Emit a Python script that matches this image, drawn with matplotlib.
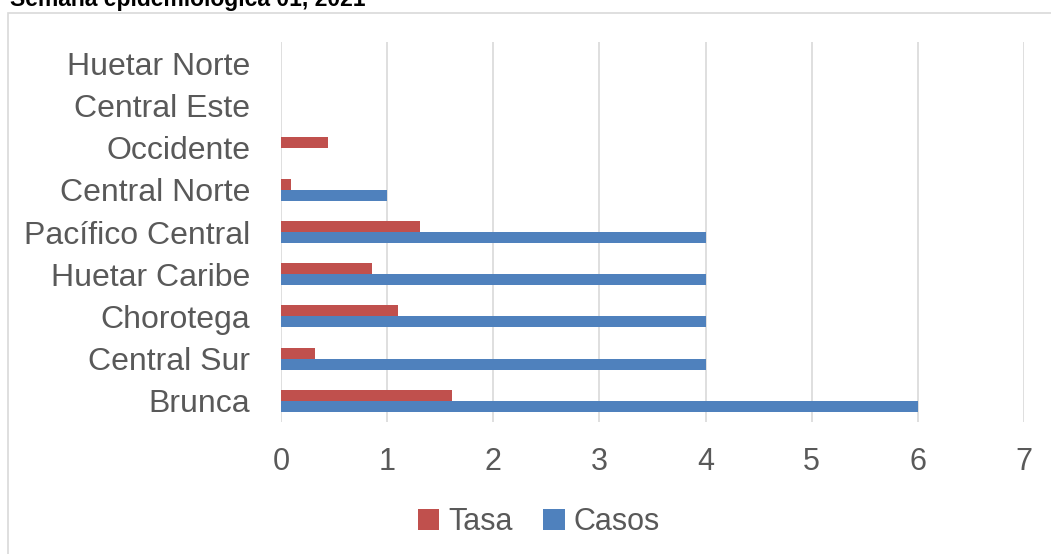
import matplotlib.pyplot as plt
from matplotlib.patches import Rectangle
import numpy as np

plt.rcParams['font.family'] = ['Liberation Sans', 'DejaVu Sans']

regiones = ['Brunca', 'Central Sur', 'Chorotega', 'Huetar Caribe', 'Pacífico Central',
            'Central Norte', 'Occidente', 'Central Este', 'Huetar Norte']
casos = [6, 4, 4, 4, 4, 1, 0, 0, 0]
tasa = [1.61, 0.32, 1.10, 0.86, 1.31, 0.09, 0.44, 0, 0]

rojo = '#C0504D'
azul = '#4F81BD'
gris_txt = '#595959'

fig = plt.figure(figsize=(10.51, 5.54), dpi=100)
fig.patch.set_facecolor('white')

# marco del gráfico (se sale por abajo y por la derecha)
fig.patches.append(Rectangle((8 / 1051, -0.05), 1.1, 1 - 13 / 554 + 0.05,
                             transform=fig.transFigure, fill=False,
                             edgecolor='#d9d9d9', linewidth=1.2))

# título recortado arriba, como en el original
fig.text(10 / 1051, 1 - 6 / 554, 'Semana epidemiológica 01, 2021',
         ha='left', va='baseline', fontsize=16.5, fontweight='bold', color='black')

ax = fig.add_axes([281 / 1051, 1 - 422 / 554, (1024 - 281) / 1051, (422 - 42) / 554])

y = np.arange(len(regiones))
h = 0.26
ax.barh(y - h / 2, casos, height=h, color=azul, label='Casos')
ax.barh(y + h / 2, tasa, height=h, color=rojo, label='Tasa')

ax.set_xlim(0, 7)
ax.set_ylim(-0.5, len(regiones) - 0.5)
ax.set_xticks(range(0, 8))
ax.set_yticks(y)
ax.set_yticklabels(regiones)
ax.tick_params(axis='both', length=0, labelsize=22, labelcolor=gris_txt)
ax.tick_params(axis='y', pad=22, labelsize=23)
ax.tick_params(axis='x', pad=18)
ax.grid(axis='x', color='#d9d9d9', linewidth=1.2)
ax.set_axisbelow(True)
for s in ax.spines.values():
    s.set_visible(False)

handles, labels = ax.get_legend_handles_labels()
leg = fig.legend(handles[::-1], labels[::-1], loc='center',
                 bbox_to_anchor=(539 / 1051, 1 - 522 / 554), ncol=2, frameon=False,
                 fontsize=22, handlelength=0.7, handleheight=0.7, handletextpad=0.3,
                 columnspacing=1.0, labelcolor=gris_txt)

fig.savefig('out.png', dpi=100)
